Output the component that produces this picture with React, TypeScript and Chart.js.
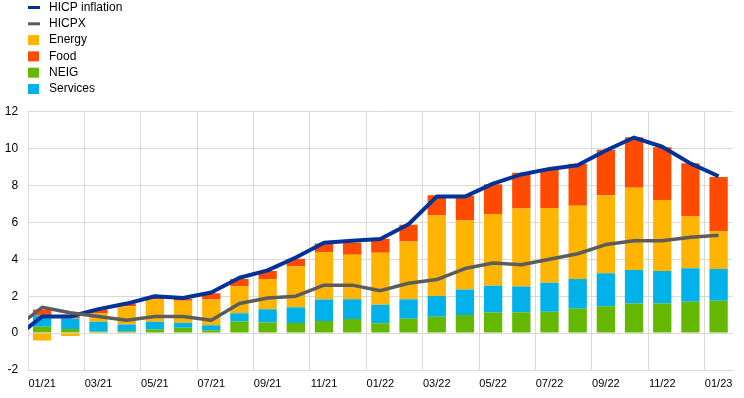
import React, { useEffect, useRef } from 'react';
import { Chart, registerables } from 'chart.js';

Chart.register(...registerables);

// Categories (first one, 12/20, lies just outside the visible axis range so the lines enter from the left edge)
const months = [
  '12/20',
  '01/21', '02/21', '03/21', '04/21', '05/21', '06/21', '07/21', '08/21', '09/21', '10/21', '11/21', '12/21',
  '01/22', '02/22', '03/22', '04/22', '05/22', '06/22', '07/22', '08/22', '09/22', '10/22', '11/22', '12/22',
  '01/23',
];

const hicp = [-0.3, 0.9, 0.9, 1.3, 1.6, 2.0, 1.9, 2.2, 3.0, 3.4, 4.1, 4.9, 5.0, 5.1, 5.9, 7.4, 7.4, 8.1, 8.6, 8.9, 9.1, 9.9, 10.6, 10.1, 9.2, 8.5];
const hicpx = [0.2, 1.4, 1.1, 0.9, 0.7, 0.9, 0.9, 0.7, 1.6, 1.9, 2.0, 2.6, 2.6, 2.3, 2.7, 2.9, 3.5, 3.8, 3.7, 4.0, 4.3, 4.8, 5.0, 5.0, 5.2, 5.3];

const neig = [null, 0.34, 0.22, 0.09, 0.1, 0.2, 0.29, 0.15, 0.63, 0.57, 0.55, 0.65, 0.77, 0.53, 0.78, 0.89, 0.98, 1.11, 1.13, 1.16, 1.32, 1.45, 1.61, 1.61, 1.70, 1.76];
const services = [null, 0.62, 0.57, 0.52, 0.37, 0.41, 0.27, 0.28, 0.44, 0.72, 0.85, 1.17, 1.06, 1.0, 1.05, 1.12, 1.38, 1.46, 1.4, 1.57, 1.61, 1.79, 1.81, 1.76, 1.81, 1.71];
const energy = [null, -0.4, -0.16, 0.45, 0.99, 1.21, 1.19, 1.39, 1.45, 1.64, 2.21, 2.57, 2.41, 2.83, 3.14, 4.37, 3.74, 3.89, 4.23, 4.05, 3.97, 4.23, 4.46, 3.84, 2.81, 2.06];
const food = [null, 0.32, 0.2, 0.22, 0.14, 0.12, 0.1, 0.34, 0.41, 0.43, 0.42, 0.47, 0.66, 0.76, 0.9, 1.09, 1.35, 1.61, 1.93, 2.1, 2.28, 2.47, 2.73, 2.86, 2.88, 2.93];

const legendLabels = ['HICP inflation', 'HICPX', 'Energy', 'Food', 'NEIG', 'Services'];
const legendKinds = ['line', 'line', 'box', 'box', 'box', 'box'];

const BLUE = '#003299';
const GREY = '#5c5c5c';
const YELLOW = '#ffb400';
const RED = '#ff4b00';
const GREEN = '#65b800';
const CYAN = '#00b1ea';
const legendColors = [BLUE, GREY, YELLOW, RED, GREEN, CYAN];

const GRID = '#d9d9d9';
const FONT = '"Liberation Sans", Arial, sans-serif';

const legendPlugin = {
  id: 'stackedLegend',
  afterDraw(chart: any) {
    const ctx = chart.ctx;
    ctx.save();
    ctx.font = `12px ${FONT}`;
    ctx.textBaseline = 'middle';
    ctx.textAlign = 'left';
    legendLabels.forEach((label, i) => {
      const cy = 7.5 + i * 16.3;
      ctx.fillStyle = legendColors[i];
      if (legendKinds[i] === 'line') ctx.fillRect(28, cy - 1.5, 12, 3);
      else ctx.fillRect(28, cy - 5, 11, 10);
      ctx.fillStyle = '#000';
      ctx.fillText(label, 49, cy);
    });
    ctx.restore();
  },
};

export default function App() {
  const ref = useRef<HTMLCanvasElement>(null);

  useEffect(() => {
    document.body.style.margin = '0';
    const barCommon = {
      type: 'bar' as const,
      order: 2,
      stack: 'bars',
      barPercentage: 0.65,
      categoryPercentage: 1,
      borderWidth: 0,
      clip: 0,
    };
    const chart = new Chart(ref.current as HTMLCanvasElement, {
      type: 'bar',
      data: {
        labels: months,
        datasets: [
          {
            type: 'line', label: 'HICPX', data: hicpx, borderColor: GREY, backgroundColor: GREY,
            borderWidth: 3.5, pointRadius: 0, tension: 0, order: 0, stack: 'hicpx', clip: 0,
            borderJoinStyle: 'round',
          } as any,
          {
            type: 'line', label: 'HICP inflation', data: hicp, borderColor: BLUE, backgroundColor: BLUE,
            borderWidth: 4, pointRadius: 0, tension: 0, order: 1, stack: 'hicp', clip: 0,
            borderJoinStyle: 'round',
          } as any,
          { ...barCommon, label: 'NEIG', data: neig, backgroundColor: GREEN } as any,
          { ...barCommon, label: 'Services', data: services, backgroundColor: CYAN } as any,
          { ...barCommon, label: 'Energy', data: energy, backgroundColor: YELLOW } as any,
          { ...barCommon, label: 'Food', data: food, backgroundColor: RED } as any,
        ],
      },
      options: {
        responsive: false,
        animation: false,
        devicePixelRatio: 1,
        layout: { padding: { top: 111.7, left: 4.7, right: 11.3, bottom: 7.8 } },
        plugins: { legend: { display: false }, tooltip: { enabled: false } },
        scales: {
          x: {
            type: 'category',
            min: '01/21',
            stacked: true,
            offset: true,
            afterFit: (s: any) => { s.height = 20.2; },
            grid: {
              offset: true,
              drawTicks: false,
              lineWidth: 1,
              color: (c: any) => (c.index !== undefined && c.index % 2 === 0 ? GRID : 'transparent'),
            },
            border: { color: GRID },
            ticks: {
              autoSkip: false,
              maxRotation: 0,
              padding: 7,
              color: '#000',
              font: { size: 11, family: FONT },
              callback: function (this: any, v: any, i: number) {
                return i % 2 === 0 ? this.getLabelForValue(v) : '';
              },
            },
          },
          y: {
            min: -2,
            max: 12,
            stacked: true,
            afterFit: (s: any) => { s.width = 23.35; },
            grid: { color: GRID, drawTicks: false, lineWidth: 1 },
            border: { color: GRID },
            ticks: { stepSize: 2, padding: 10, color: '#000', font: { size: 12, family: FONT } },
          },
        },
      } as any,
      plugins: [legendPlugin],
    });
    return () => chart.destroy();
  }, []);

  return (
    <div style={{ width: 744, height: 398, position: 'relative' }}>
      <canvas ref={ref} width={744} height={398} style={{ display: 'block' }} />
    </div>
  );
}
